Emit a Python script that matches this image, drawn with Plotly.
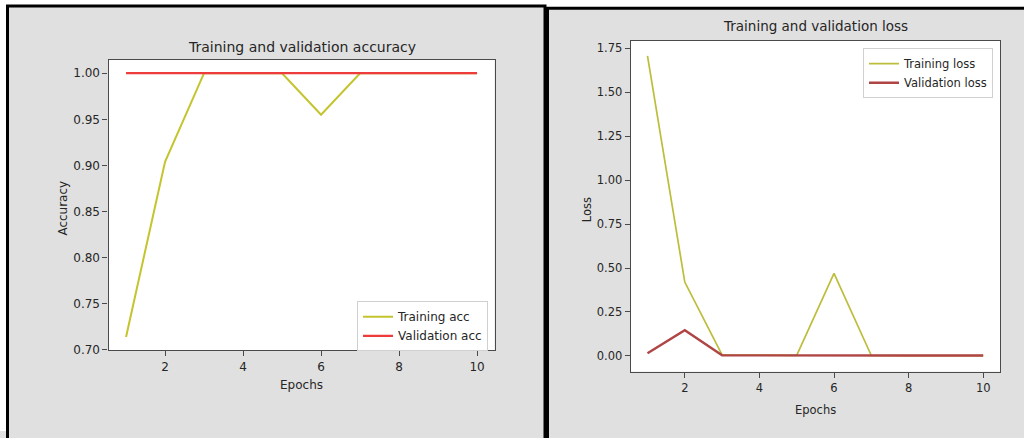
import plotly.graph_objects as go

epochs = [1, 2, 3, 4, 5, 6, 7, 8, 9, 10]
train_acc = [0.714, 0.904, 1.0, 1.0, 1.0, 0.955, 1.0, 1.0, 1.0, 1.0]
val_acc = [1.0, 1.0, 1.0, 1.0, 1.0, 1.0, 1.0, 1.0, 1.0, 1.0]
train_loss = [1.707, 0.42, 0.005, 0.002, 0.003, 0.469, 0.002, 0.001, 0.001, 0.001]
val_loss = [0.015, 0.146, 0.003, 0.002, 0.002, 0.002, 0.002, 0.002, 0.002, 0.002]

acc_ticks = [0.70, 0.75, 0.80, 0.85, 0.90, 0.95, 1.00]
loss_ticks = [0.0, 0.25, 0.5, 0.75, 1.0, 1.25, 1.5, 1.75]
epoch_ticks = [2, 4, 6, 8, 10]

W, H = 1024, 438
FONT = "DejaVu Sans"
TXT = "#262626"
SPINE = "#4a4a4a"
GRAY = "#e0e0e0"


def px(x):
    return x / W


def py(y):
    return 1 - y / H


fig = go.Figure()
fig.add_trace(go.Scatter(x=epochs, y=train_acc, mode="lines", name="Training acc",
                         line=dict(color="#c4c42e", width=2), xaxis="x", yaxis="y", legend="legend"))
fig.add_trace(go.Scatter(x=epochs, y=val_acc, mode="lines", name="Validation acc",
                         line=dict(color="#ee3b3b", width=2.2), xaxis="x", yaxis="y", legend="legend"))
fig.add_trace(go.Scatter(x=epochs, y=train_loss, mode="lines", name="Training loss",
                         line=dict(color="#bdbd3c", width=1.7), xaxis="x2", yaxis="y2", legend="legend2"))
fig.add_trace(go.Scatter(x=epochs, y=val_loss, mode="lines", name="Validation loss",
                         line=dict(color="#b04545", width=2.4), xaxis="x2", yaxis="y2", legend="legend2"))

axis_common = dict(showgrid=False, zeroline=False, showline=True, mirror=True,
                   linecolor=SPINE, linewidth=1.2, ticks="outside", ticklen=5,
                   tickcolor=SPINE, tickwidth=1)

fig.update_layout(
    width=W, height=H, margin=dict(l=0, r=0, t=0, b=0),
    paper_bgcolor=GRAY, plot_bgcolor="white",
    font=dict(family=FONT, color=TXT, size=12),
    xaxis=dict(domain=[px(108.5), px(494.6)], range=[0.55, 10.45], tickvals=epoch_ticks,
               anchor="y", tickfont=dict(size=12), **axis_common),
    yaxis=dict(domain=[py(356), py(61)], range=[0.6995, 1.0143], tickvals=acc_ticks,
               tickformat=".2f", anchor="x", tickfont=dict(size=12), **axis_common),
    xaxis2=dict(domain=[px(630.7), px(1000)], range=[0.55, 10.45], tickvals=epoch_ticks,
                anchor="y2", tickfont=dict(size=11.5), **axis_common),
    yaxis2=dict(domain=[py(377.7), py(41.7)], range=[-0.09, 1.792], tickvals=loss_ticks,
                tickformat=".2f", anchor="x2", tickfont=dict(size=11.5), **axis_common),
    legend=dict(x=px(488), y=py(357), xanchor="right", yanchor="bottom",
                bgcolor="white", bordercolor="#d0d0d0", borderwidth=1,
                font=dict(size=12, color=TXT), tracegroupgap=0),
    legend2=dict(x=px(993), y=py(49), xanchor="right", yanchor="top",
                 bgcolor="white", bordercolor="#d0d0d0", borderwidth=1,
                 font=dict(size=11.5, color=TXT), tracegroupgap=0),
    shapes=[
        # white strips outside the panels
        dict(type="rect", xref="paper", yref="paper", layer="below",
             x0=0, x1=px(6), y0=0, y1=1, fillcolor="white", line=dict(width=0)),
        dict(type="rect", xref="paper", yref="paper", layer="below",
             x0=0, x1=px(546), y0=py(5), y1=1, fillcolor="white", line=dict(width=0)),
        dict(type="rect", xref="paper", yref="paper", layer="below",
             x0=px(546), x1=1, y0=py(7.5), y1=1, fillcolor="white", line=dict(width=0)),
        # panel borders
        dict(type="rect", xref="paper", yref="paper", layer="below",
             x0=px(7.5), x1=px(545), y0=-0.05, y1=py(6),
             line=dict(color="black", width=3)),
        dict(type="rect", xref="paper", yref="paper", layer="below",
             x0=px(547.5), x1=1.05, y0=-0.05, y1=py(8.5),
             line=dict(color="black", width=3)),
    ],
    annotations=[
        dict(text="Training and validation accuracy", x=px(301.6), y=py(48), xref="paper", yref="paper",
             showarrow=False, font=dict(size=14, color=TXT), xanchor="center", yanchor="middle"),
        dict(text="Accuracy", x=px(63), y=py(212), xref="paper", yref="paper", textangle=-90,
             showarrow=False, font=dict(size=12, color=TXT), xanchor="center", yanchor="middle"),
        dict(text="Epochs", x=px(301.6), y=py(391), xref="paper", yref="paper",
             showarrow=False, font=dict(size=12, color=TXT), xanchor="center", yanchor="middle"),
        dict(text="Training and validation loss", x=px(815), y=py(26.7), xref="paper", yref="paper",
             showarrow=False, font=dict(size=13.5, color=TXT), xanchor="center", yanchor="middle"),
        dict(text="Loss", x=px(586.7), y=py(213), xref="paper", yref="paper", textangle=-90,
             showarrow=False, font=dict(size=11.5, color=TXT), xanchor="center", yanchor="middle"),
        dict(text="Epochs", x=px(815), y=py(416.7), xref="paper", yref="paper",
             showarrow=False, font=dict(size=11.5, color=TXT), xanchor="center", yanchor="middle"),
    ],
)

fig.write_html("out.html")
